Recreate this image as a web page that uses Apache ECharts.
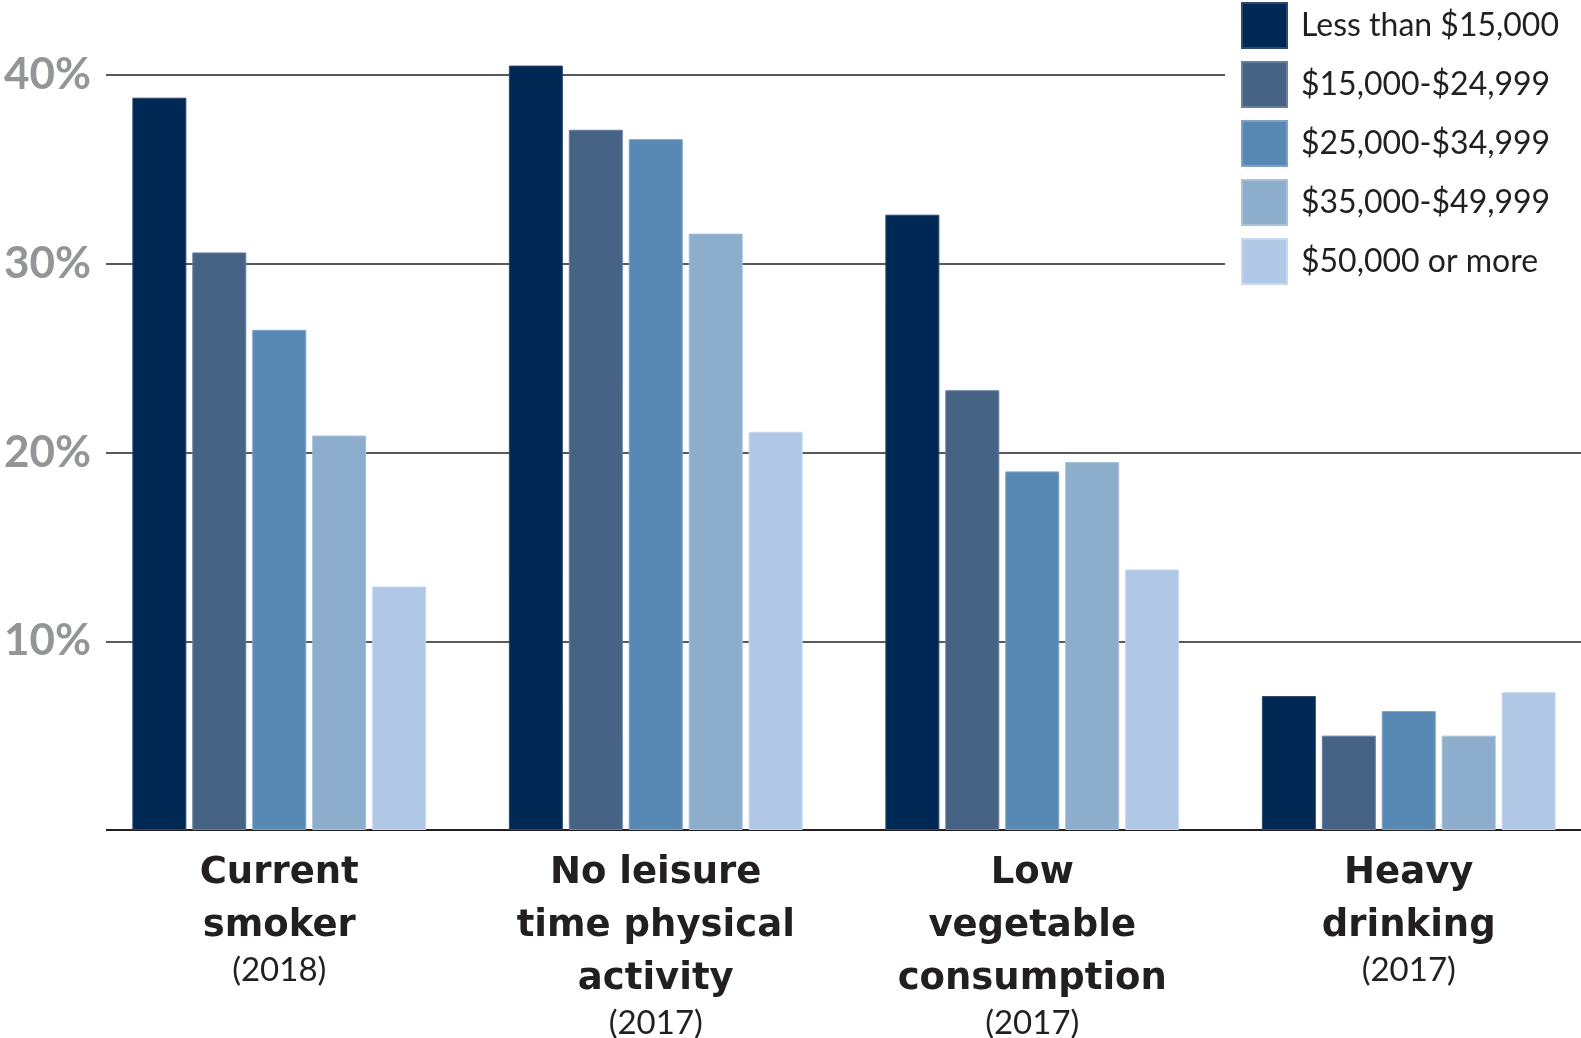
<!DOCTYPE html>
<html>
<head>
<meta charset="utf-8">
<script src="https://cdn.jsdelivr.net/npm/echarts@6/dist/echarts.min.js"></script>
<style>
  html, body { margin: 0; padding: 0; background: #ffffff; }
  #chart { width: 1581px; height: 1038px; }
</style>
</head>
<body>
<div id="chart"></div>
<script>
// Behaviour categories (title lines) and survey years
const categories = ['Current\nsmoker', 'No leisure\ntime physical\nactivity', 'Low\nvegetable\nconsumption', 'Heavy\ndrinking'];
const years = ['(2018)', '(2017)', '(2017)', '(2017)'];

// Household income groups
const incomeGroups = ['Less than $15,000', '$15,000-$24,999', '$25,000-$34,999', '$35,000-$49,999', '$50,000 or more'];

// Percent of adults, one array per income group (same order as categories)
const lessThan15k = [38.8, 40.5, 32.6, 7.1];
const from15to25k = [30.6, 37.1, 23.3, 5.0];
const from25to35k = [26.5, 36.6, 19.0, 6.3];
const from35to50k = [20.9, 31.6, 19.5, 5.0];
const over50k     = [12.9, 21.1, 13.8, 7.3];

// Value axis ticks
const yTicks = [0, 10, 20, 30, 40];

const seriesValues = [lessThan15k, from15to25k, from25to35k, from35to50k, over50k];
const colors = ['#002855', '#466285', '#5889b4', '#8cadcc', '#b1c7e6'];
const edgeColors = ['#2e4a70', '#6680a0', '#7ea2c6', '#a9c1d9', '#c8d8ee'];

const FONT = 'Lato, "Open Sans", sans-serif';
const TITLE_FONT = '"DejaVu Sans", Lato, sans-serif';
const plotTop = 75;
const plotBottom = 208;

const chart = echarts.init(document.getElementById('chart'), null, { renderer: 'canvas' });

chart.setOption({
  backgroundColor: '#ffffff',
  animation: false,
  textStyle: { fontFamily: FONT },
  legend: {
    orient: 'vertical',
    left: 1225,
    top: 0,
    padding: [2, 60, 6, 16],
    backgroundColor: '#ffffff',
    itemWidth: 45,
    itemHeight: 45,
    itemGap: 12,
    icon: 'rect',
    data: incomeGroups,
    textStyle: {
      fontFamily: FONT,
      fontSize: 32,
      color: '#231f20',
      padding: [0, 0, 0, 9]
    }
  },
  grid: [
    // grid for the percentage gridlines and tick labels
    { left: 106, right: 0, top: plotTop, bottom: plotBottom, outerBoundsMode: 'none' },
    // grid holding the grouped bars (last group reaches past the right edge)
    { left: 91, width: 1506, top: plotTop, bottom: plotBottom, outerBoundsMode: 'none' }
  ],
  xAxis: [
    { gridIndex: 0, type: 'value', show: false },
    {
      gridIndex: 1,
      type: 'category',
      data: categories,
      axisLine: { show: false },
      axisTick: { show: false },
      axisLabel: {
        interval: 0,
        margin: 17,
        formatter: function (value, idx) {
          const lines = value.split('\n').map(l => '{t|' + l + '}');
          return lines.join('\n') + '\n{y|' + years[idx] + '}';
        },
        rich: {
          t: { fontFamily: TITLE_FONT, fontSize: 37, fontWeight: 'bold', color: '#231f20', lineHeight: 53 },
          y: { fontFamily: FONT, fontSize: 33, color: '#231f20', lineHeight: 34 }
        }
      }
    }
  ],
  yAxis: [
    {
      gridIndex: 0,
      type: 'value',
      min: yTicks[0],
      max: yTicks[yTicks.length - 1],
      interval: 10,
      axisLine: { show: false },
      axisTick: { show: false },
      axisLabel: {
        margin: 15,
        fontFamily: FONT,
        fontSize: 44,
        fontWeight: 'bold',
        color: '#939598',
        formatter: v => (v === 0 ? '' : v + '%')
      },
      splitLine: {
        show: true,
        lineStyle: { color: ['#231f20', '#58595b', '#58595b', '#58595b', '#58595b'], width: 2 }
      }
    },
    {
      gridIndex: 1,
      type: 'value',
      min: yTicks[0],
      max: yTicks[yTicks.length - 1],
      interval: 10,
      show: false,
      splitLine: { show: false }
    }
  ],
  series: incomeGroups.map((name, i) => ({
    name: name,
    type: 'bar',
    xAxisIndex: 1,
    yAxisIndex: 1,
    data: seriesValues[i],
    barWidth: 54,
    barGap: '11%',
    clip: false,
    itemStyle: { color: colors[i], borderColor: edgeColors[i], borderWidth: 1 },
    emphasis: { disabled: true }
  }))
});
</script>
</body>
</html>
